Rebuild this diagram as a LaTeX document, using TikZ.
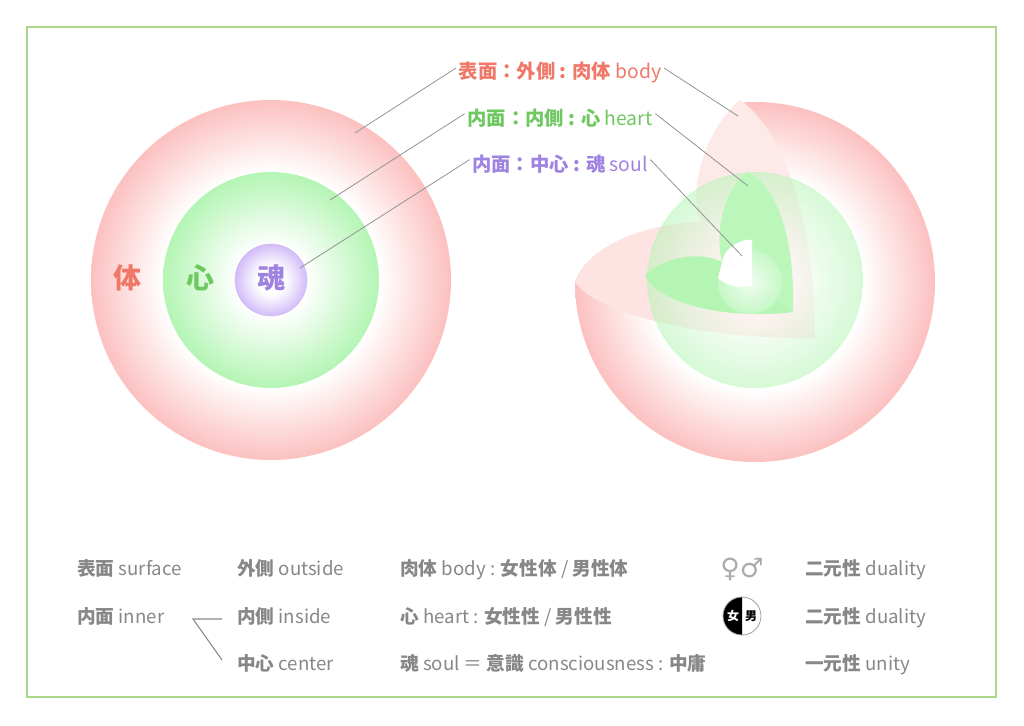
\documentclass[tikz,border=0pt]{standalone}
\usepackage{fontspec}
\setmainfont{Noto Sans CJK JP}
\newfontfamily\dvs{DejaVu Sans}
\definecolor{frameg}{RGB}{170,215,140}
\definecolor{pk}{RGB}{252,192,192}
\definecolor{pkt}{RGB}{240,120,105}
\definecolor{gn}{RGB}{180,245,180}
\definecolor{gnt}{RGB}{110,200,95}
\definecolor{pu}{RGB}{210,188,248}
\definecolor{put}{RGB}{160,130,225}
\definecolor{gy}{RGB}{135,135,135}
\pgfdeclareradialshading{pinkball}{\pgfpoint{0bp}{0bp}}{color(0bp)=(white);color(15bp)=(white);color(25bp)=(pk);color(50bp)=(pk)}
\pgfdeclareradialshading{greenball}{\pgfpoint{0bp}{0bp}}{color(0bp)=(white);color(8bp)=(white);color(25bp)=(gn);color(50bp)=(gn)}
\pgfdeclareradialshading{purpleball}{\pgfpoint{0bp}{0bp}}{color(0bp)=(white);color(10bp)=(white);color(25bp)=(pu);color(50bp)=(pu)}
\tikzset{
 lead/.style={draw=gy!90,line width=0.6pt},
 toplab/.style={anchor=base,font=\fontsize{14.5}{16}\selectfont},
 bot/.style={anchor=base west,text=gy,font=\fontsize{14}{16}\selectfont,inner sep=0},
 bigc/.style={font=\fontsize{21}{24}\selectfont\bfseries}
}
\begin{document}
\begin{tikzpicture}[x=0.75pt,y=-0.75pt]
\useasboundingbox (0,0) rectangle (1024,725);
\draw[frameg,line width=1.2pt] (27,27) rectangle (996,697);
% left
\shade[shading=pinkball] (271,280) circle (180);
\shade[shading=greenball] (271,280) circle (108);
\shade[shading=purpleball,draw=pu] (271,280) circle (36);
\node[bigc,text=pkt] (ti) at (127,278) {体};
\node[bigc,text=gnt] (xin) at (200,278) {心};
\node[bigc,text=put] (hun) at (271,278) {魂};
% right sphere
\shade[shading=pinkball] (755,282) circle (180);
\fill[white] (575,282) .. controls (590,240) and (660,222) .. (700,222) .. controls (688,190) and (705,130) .. (740,100) -- (740,95) -- (565,95) -- (565,282) -- cycle;
\fill[pk!45] (575,282) .. controls (590,240) and (660,222) .. (700,222) -- (815,338) .. controls (720,340) and (600,318) .. cycle;
\fill[pk!35] (740,100) .. controls (705,130) and (688,190) .. (700,222) -- (815,338) .. controls (815,250) and (795,140) .. cycle;
\shade[shading=greenball,opacity=0.55] (755,280) circle (108);
\fill[gn!90] (748,172) .. controls (722,190) and (715,235) .. (722,262) -- (793,312) .. controls (795,250) and (782,190) .. cycle;
\fill[gn] (645,276) .. controls (660,258) and (700,250) .. (722,262) -- (793,312) .. controls (730,320) and (660,305) .. cycle;
\shade[inner color=white,outer color=gn!70,opacity=0.8] (750,282) circle (32);
\fill[white] (722,262) .. controls (725,245) and (745,238) .. (752,240) -- (752,285) .. controls (740,290) and (725,285) .. (718,278) -- cycle;
% labels
\node[toplab,text=pkt] (l1) at (560,78) {\textbf{表面：外側 : 肉体} body};
\node[toplab,text=gnt] (l2) at (560,125) {\textbf{内面：内側 : 心} heart};
\node[toplab,text=put] (l3) at (560,171) {\textbf{内面：中心 : 魂} soul};
\coordinate (a1) at (355,133); \coordinate (a2) at (330,200); \coordinate (a3) at (300,268);
\coordinate (b1) at (738,116); \coordinate (b2) at (748,186); \coordinate (b3) at (742,256);
\draw[lead] (l1.west) ++(2,-4) -- (a1);
\draw[lead] (l2.west) ++(2,-4) -- (a2);
\draw[lead] (l3.west) ++(2,-4) -- (a3);
\draw[lead] (l1.east) ++(-2,-4) -- (b1);
\draw[lead] (l2.east) ++(-2,-4) -- (b2);
\draw[lead] (l3.east) ++(-2,-4) -- (b3);
% table
\node[bot] (r1a) at (77,575) {\textbf{表面} surface};
\node[bot] (r1b) at (237,575) {\textbf{外側} outside};
\node[bot] (r1c) at (400,575) {\textbf{肉体} body : \textbf{女性体} / \textbf{男性体}};
\node[bot,text=gy!70,font=\dvs\fontsize{20}{22}\selectfont] (r1d) at (720,577) {♀♂};
\node[bot] (r1e) at (805,575) {\textbf{二元性} duality};
\node[bot] (r2a) at (77,623) {\textbf{内面} inner};
\node[bot] (r2b) at (237,623) {\textbf{内側} inside};
\node[bot] (r2c) at (400,623) {\textbf{心} heart : \textbf{女性性} / \textbf{男性性}};
\node[bot] (r2e) at (805,623) {\textbf{二元性} duality};
\node[bot] (r3b) at (237,670) {\textbf{中心} center};
\node[bot] (r3c) at (400,670) {\textbf{魂} soul ＝ \textbf{意識} consciousness : \textbf{中庸}};
\node[bot] (r3e) at (805,670) {\textbf{一元性} unity};
\coordinate (k) at (193,619);
\draw[gy,line width=0.8pt] (222,619) -- (k) -- (222,660);
% yin yang
\fill[black] (742,597) arc (270:90:19) -- cycle;
\draw[gy!80,line width=0.6pt] (742,616) circle (19);
\node[text=white,font=\fontsize{9}{10}\selectfont\bfseries] (nu) at (733,616) {女};
\node[text=black,font=\fontsize{9}{10}\selectfont\bfseries] (nan) at (751,616) {男};
\end{tikzpicture}
\end{document}
